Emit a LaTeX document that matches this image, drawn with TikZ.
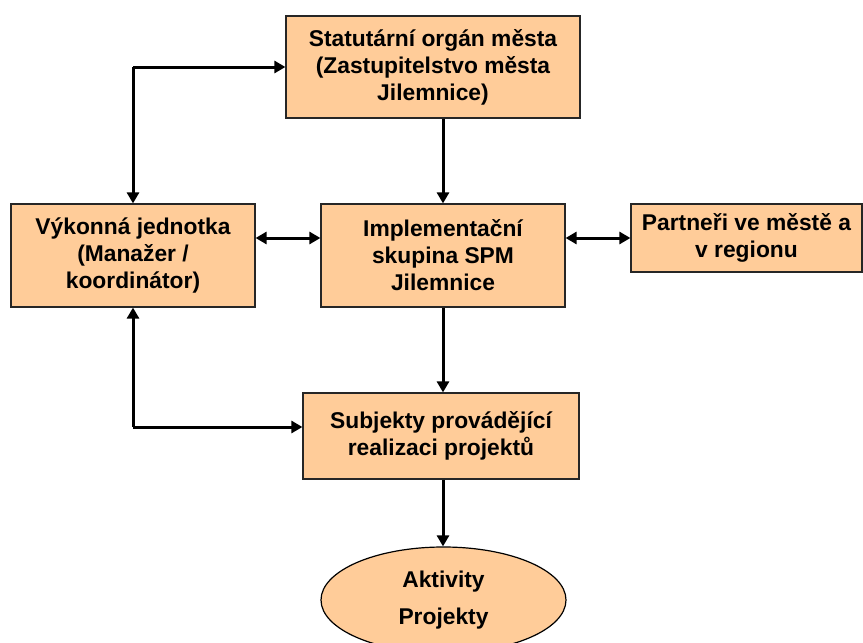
\documentclass[tikz,border=0pt]{standalone}
\usepackage{fontspec}
\setmainfont{Liberation Sans}
\usetikzlibrary{arrows.meta,shapes.geometric}
\definecolor{peach}{HTML}{FFCC99}
\begin{document}
\begin{tikzpicture}[x=1pt,y=-1pt,
  box/.style={draw=black!85,line width=1.2pt,fill=peach,rectangle,inner sep=0pt,align=center,
    font=\bfseries\fontsize{22.8}{27}\selectfont},
  ellbox/.style={draw=black,line width=1.2pt,fill=peach,ellipse,inner sep=0pt,align=center,
    minimum width=245pt,minimum height=106pt,font=\bfseries\fontsize{22.8}{37}\selectfont},
  arr/.style={line width=3pt,-{Triangle[length=11pt,width=12pt]}},
  dbl/.style={line width=3pt,{Triangle[length=11pt,width=12pt]}-{Triangle[length=11pt,width=12pt]}}]
\useasboundingbox (0,0) rectangle (863,643);
\node[box,minimum width=294pt,minimum height=102pt] (top) at (433,67) {Statutární orgán města\\(Zastupitelstvo města\\Jilemnice)};
\node[box,minimum width=244pt,minimum height=103pt] (left) at (133,255.5) {Výkonná jednotka\\(Manažer /\\koordinátor)};
\node[box,minimum width=244pt,minimum height=103pt] (impl) at (443,255.5) {Implementační\\skupina SPM\\Jilemnice};
\node[box,minimum width=231pt,minimum height=68pt] (part) at (746.5,238) {Partneři ve městě a\\v regionu};
\node[box,minimum width=276pt,minimum height=86pt] (subj) at (441,436) {Subjekty provádějící\\realizaci projektů};
\node[ellbox] (ell) at (443.5,600) {Aktivity\\Projekty};
\coordinate (c1) at (133,67);
\coordinate (c2) at (133,427);
\draw[arr] (c1) -- (top.west);
\draw[arr] (c1) -- (left.north);
\draw[arr] (impl.north |- top.south) -- (impl.north);
\draw[dbl] (left.east |- part.west) -- (impl.west |- part.west);
\draw[dbl] (impl.east |- part.west) -- (part.west);
\draw[arr] (impl.south) -- (impl.south |- subj.north);
\draw[arr] (c2) -- (left.south);
\draw[arr] (c2) -- (c2 -| subj.west);
\draw[arr] (impl.south |- subj.south) -- (impl.south |- ell.north);
\end{tikzpicture}
\end{document}
